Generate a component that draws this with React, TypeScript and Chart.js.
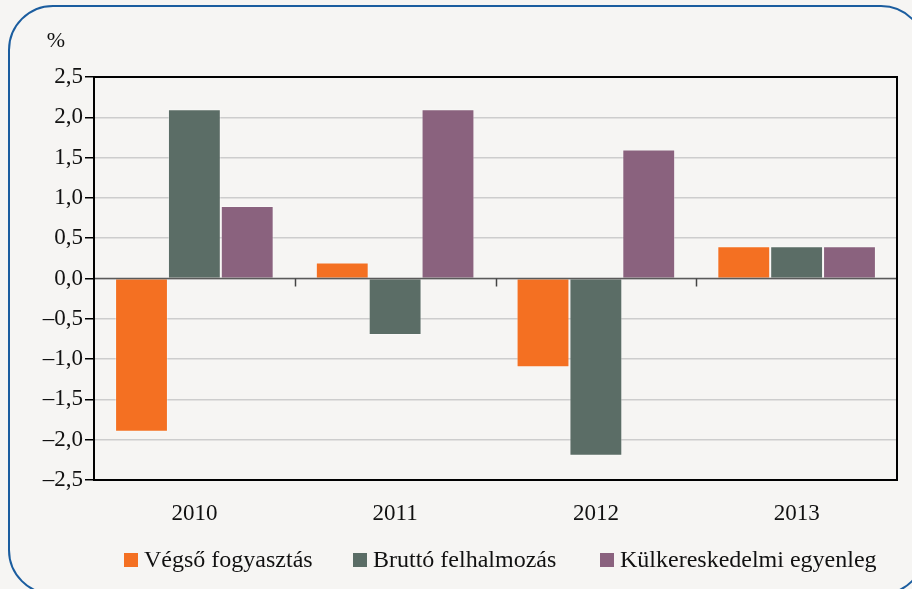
import React, { useEffect, useRef } from "react";
import { Chart, registerables } from "chart.js";

Chart.register(...registerables);

const categories = ["2010", "2011", "2012", "2013"];
const seriesNames = ["Végső fogyasztás", "Bruttó felhalmozás", "Külkereskedelmi egyenleg"];
const vegsoFogyasztas = [-1.9, 0.2, -1.1, 0.4];
const bruttoFelhalmozas = [2.1, -0.7, -2.2, 0.4];
const kulkereskedelmi = [0.9, 2.1, 1.6, 0.4];
const seriesColors = ["#f47022", "#5b6d66", "#8a627e"];
const yMin = -2.5;
const yMax = 2.5;
const yStep = 0.5;
const unitLabel = "%";

const FONT = "'Liberation Serif', 'DejaVu Serif', serif";

const fmt = (v: number) => {
  const s = Math.abs(v).toFixed(1).replace(".", ",");
  return v < -1e-9 ? "\u2013" + s : s;
};

const framePlugin = {
  id: "frame",
  afterDatasetsDraw(chart: any) {
    const { ctx, chartArea, scales } = chart;
    const y0 = scales.y.getPixelForValue(0);
    ctx.save();
    ctx.strokeStyle = "#5a5a5a";
    ctx.lineWidth = 1.5;
    ctx.beginPath();
    ctx.moveTo(chartArea.left, y0);
    ctx.lineTo(chartArea.right, y0);
    ctx.stroke();
    ctx.strokeStyle = "#444";
    const n = categories.length;
    const w = (chartArea.right - chartArea.left) / n;
    for (let i = 1; i < n; i++) {
      const x = Math.round(chartArea.left + w * i) + 0.5;
      ctx.beginPath();
      ctx.moveTo(x, y0);
      ctx.lineTo(x, y0 + 8);
      ctx.stroke();
    }
    ctx.strokeStyle = "#000";
    ctx.lineWidth = 2;
    ctx.strokeRect(chartArea.left, chartArea.top, chartArea.right - chartArea.left, chartArea.bottom - chartArea.top);
    ctx.fillStyle = "#111";
    ctx.font = `22px ${FONT}`;
    ctx.textAlign = "center";
    ctx.textBaseline = "middle";
    ctx.fillText(unitLabel, 56, 41);
    ctx.font = `24px ${FONT}`;
    ctx.textAlign = "left";
    const ly = 560;
    const starts = [124, 353, 600];
    chart.data.datasets.forEach((ds: any, i: number) => {
      const x = starts[i];
      ctx.fillStyle = ds.backgroundColor;
      ctx.fillRect(x, ly - 7, 14, 14);
      ctx.fillStyle = "#111";
      ctx.fillText(ds.label, x + 20, ly + 1);
    });
    ctx.restore();
  },
};

export default function App() {
  const ref = useRef<HTMLCanvasElement>(null);
  useEffect(() => {
    if (!ref.current) return;
    const seriesData = [vegsoFogyasztas, bruttoFelhalmozas, kulkereskedelmi];
    const chart = new Chart(ref.current, {
      type: "bar",
      data: {
        labels: categories,
        datasets: seriesNames.map((name, i) => ({
          label: name,
          data: seriesData[i],
          backgroundColor: seriesColors[i],
          borderColor: "rgba(255,255,255,0.35)",
          borderWidth: 1,
          categoryPercentage: 0.79,
          barPercentage: 1,
        })),
      },
      options: {
        responsive: false,
        animation: false,
        devicePixelRatio: 1,
        layout: { padding: { left: 0, right: 15, top: 77, bottom: 0 } },
        plugins: { legend: { display: false }, tooltip: { enabled: false } },
        scales: {
          x: {
            grid: { display: false },
            border: { display: false },
            ticks: {
              color: "#111",
              font: { family: FONT, size: 23 },
              padding: 12,
            },
            afterFit(scale: any) {
              scale.height = 109;
            },
          },
          y: {
            min: yMin,
            max: yMax,
            ticks: {
              stepSize: yStep,
              color: "#111",
              font: { family: FONT, size: 23 },
              padding: 2,
              callback: (v: any) => fmt(Number(v)),
            },
            grid: {
              color: "#cdcdcd",
              lineWidth: 1.5,
              tickColor: "#000",
              tickLength: 9,
              drawTicks: true,
            },
            border: { display: true, color: "#000", width: 2 },
            afterFit(scale: any) {
              scale.width = 94;
            },
          },
        },
      },
      plugins: [framePlugin],
    });
    return () => chart.destroy();
  }, []);

  return (
    <div
      style={{
        position: "fixed",
        left: 0,
        top: 0,
        width: 912,
        height: 589,
        overflow: "hidden",
        background: "#f6f5f3",
      }}
    >
      <div
        style={{
          position: "absolute",
          left: 8,
          top: 5,
          width: 918,
          height: 590,
          border: "2px solid #1b5d9f",
          borderRadius: 45,
          boxSizing: "border-box",
        }}
      />
      <canvas ref={ref} width={912} height={589} style={{ position: "absolute", left: 0, top: 0 }} />
    </div>
  );
}
